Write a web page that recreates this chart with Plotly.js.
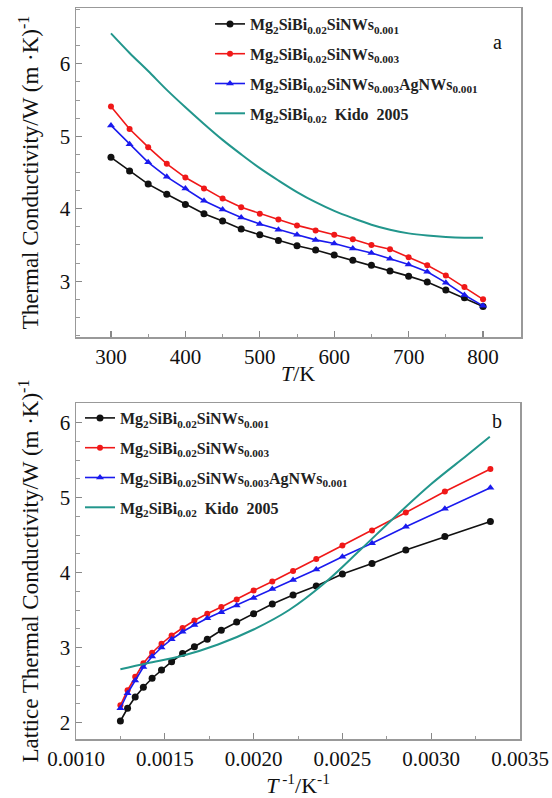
<!DOCTYPE html>
<html>
<head>
<meta charset="utf-8">
<script src="https://cdn.plot.ly/plotly-3.0.1.min.js"></script>
<style>
html,body{margin:0;padding:0;background:#fff;}
#chart{width:552px;height:798px;}
</style>
</head>
<body>
<div id="chart"></div>
<script>
// ---- Data ----
var temperatureK = [300,325,350,375,400,425,450,475,500,525,550,575,600,625,650,675,700,725,750,775,800];

// panel a: total thermal conductivity
var kappaSiNWs001 = [4.71,4.52,4.34,4.20,4.06,3.93,3.83,3.72,3.64,3.56,3.49,3.43,3.36,3.29,3.22,3.14,3.07,2.99,2.88,2.77,2.65];
var kappaSiNWs003 = [5.41,5.10,4.85,4.62,4.43,4.28,4.14,4.02,3.93,3.85,3.77,3.70,3.64,3.58,3.50,3.44,3.33,3.22,3.08,2.92,2.75];
var kappaSiNWsAgNWs = [5.15,4.89,4.64,4.44,4.28,4.11,3.99,3.88,3.79,3.71,3.64,3.57,3.52,3.45,3.39,3.31,3.23,3.13,2.98,2.81,2.66];
var kappaKido = [6.42,6.15,5.90,5.64,5.40,5.17,4.95,4.75,4.56,4.39,4.23,4.09,3.97,3.87,3.78,3.71,3.66,3.63,3.61,3.60,3.60];

// panel b: lattice thermal conductivity vs 1/T
var latticeSiNWs001 = [4.68,4.48,4.30,4.12,3.98,3.82,3.70,3.58,3.45,3.34,3.23,3.11,3.01,2.92,2.81,2.70,2.59,2.47,2.34,2.19,2.02];
var latticeSiNWs003 = [5.38,5.08,4.80,4.56,4.36,4.18,4.02,3.88,3.76,3.64,3.54,3.45,3.36,3.26,3.16,3.05,2.93,2.79,2.61,2.43,2.23];
var latticeSiNWsAgNWs = [5.13,4.85,4.61,4.39,4.21,4.04,3.90,3.78,3.66,3.56,3.47,3.39,3.30,3.21,3.11,3.00,2.88,2.74,2.56,2.39,2.19];
var kidoInvT = [0.00125,0.0014,0.0016,0.0018,0.0020,0.0022,0.0024,0.0026,0.0028,0.0030,0.0032,0.00333];
var latticeKido = [2.71,2.79,2.89,3.04,3.24,3.50,3.86,4.30,4.75,5.18,5.56,5.81];

var seriesNames = [
  'Mg<sub>2</sub>SiBi<sub>0.02</sub>SiNWs<sub>0.001</sub>',
  'Mg<sub>2</sub>SiBi<sub>0.02</sub>SiNWs<sub>0.003</sub>',
  'Mg<sub>2</sub>SiBi<sub>0.02</sub>SiNWs<sub>0.003</sub>AgNWs<sub>0.001</sub>',
  'Mg<sub>2</sub>SiBi<sub>0.02</sub>  Kido  2005'
];
var xTicksA = [300,400,500,600,700,800];
var xTicksB = [0.0010,0.0015,0.0020,0.0025,0.0030,0.0035];
var xTickTextB = ['0.0010','0.0015','0.0020','0.0025','0.0030','0.0035'];
var xTitleA = '<i>T</i>/K';
var xTitleB = '<i>T</i><sup> -1</sup>/K<sup>-1</sup>';
var yTitleA = 'Thermal Conductivity/W (m ·K)<sup>-1</sup>';
var yTitleB = 'Lattice Thermal Conductivity/W (m ·K)<sup>-1</sup>';

var invT = temperatureK.map(function(t){return 1/t;});

// ---- Styles ----
var cBlack='#111111', cRed='#f01818', cBlue='#1a1aee', cTeal='#22968c';
var serif='Liberation Serif';

function tr(x,y,name,color,sym,msize,xa,ya,leg,grp){
  var t = {x:x,y:y,name:name,type:'scatter',mode:sym?'lines+markers':'lines',
    line:{color:color,width:sym?1.6:2},
    xaxis:xa,yaxis:ya,legend:leg,legendgroup:grp};
  if(sym){ t.marker={symbol:sym,size:msize,color:color}; }
  else { t.line.shape='spline'; t.line.smoothing=1; }
  return t;
}

var data = [
  tr(temperatureK,kappaSiNWs001,seriesNames[0],cBlack,'circle',7,'x','y','legend','a1'),
  tr(temperatureK,kappaSiNWs003,seriesNames[1],cRed,'circle',6,'x','y','legend','a2'),
  tr(temperatureK,kappaSiNWsAgNWs,seriesNames[2],cBlue,'triangle-up',7,'x','y','legend','a3'),
  tr(temperatureK,kappaKido,seriesNames[3],cTeal,null,0,'x','y','legend','a4'),
  tr(invT,latticeSiNWs001,seriesNames[0],cBlack,'circle',7,'x2','y2','legend2','b1'),
  tr(invT,latticeSiNWs003,seriesNames[1],cRed,'circle',6,'x2','y2','legend2','b2'),
  tr(invT,latticeSiNWsAgNWs,seriesNames[2],cBlue,'triangle-up',7,'x2','y2','legend2','b3'),
  tr(kidoInvT,latticeKido,seriesNames[3],cTeal,null,0,'x2','y2','legend2','b4')
];

var W=552,H=798;
function axisBase(){
  return {showline:true,mirror:true,linecolor:'#999',linewidth:1.5,
    ticks:'inside',ticklen:6,tickwidth:1.2,tickcolor:'#888',
    showgrid:false,zeroline:false,
    tickfont:{family:serif,size:21,color:'#111'},
    minor:{ticks:'inside',ticklen:3.5,tickwidth:1,tickcolor:'#999',showgrid:false}};
}
var xa=axisBase(); Object.assign(xa,{domain:[76/W,521/W],anchor:'y',range:[253,851],tickmode:'array',tickvals:xTicksA});
xa.minor.dtick=50; xa.minor.tick0=250;
var ya=axisBase(); Object.assign(ya,{domain:[1-337/H,1-8/H],anchor:'x',range:[2.23,6.77],dtick:1,tick0:0,
  title:{text:yTitleA,font:{family:serif,size:23,color:'#111'},standoff:14}});
ya.minor.dtick=0.25; ya.minor.tick0=0;
var xb=axisBase(); Object.assign(xb,{domain:[76/W,520/W],anchor:'y2',range:[0.001,0.0035],tickmode:'array',tickvals:xTicksB,ticktext:xTickTextB,
  title:{text:xTitleB,font:{family:serif,size:22,color:'#111'},standoff:13}});
xb.minor.dtick=0.00025; xb.minor.tick0=0.001;
var yb=axisBase(); Object.assign(yb,{domain:[1-739/H,1-403/H],anchor:'x2',range:[1.78,6.26],dtick:1,tick0:0,
  title:{text:yTitleB,font:{family:serif,size:23,color:'#111'},standoff:14}});
yb.minor.dtick=0.25; yb.minor.tick0=0;

var legFont={family:serif,size:16,color:'#222',weight:'bold'};
var layout = {
  width:W,height:H,margin:{l:0,r:0,t:0,b:0},
  font:{family:serif},
  paper_bgcolor:'#fff',plot_bgcolor:'#fff',showlegend:true,
  xaxis:xa,yaxis:ya,xaxis2:xb,yaxis2:yb,
  legend:{x:210/W,xanchor:'left',y:1-7/H,yanchor:'top',bgcolor:'rgba(0,0,0,0)',
    font:legFont,tracegroupgap:6,itemwidth:30,traceorder:'grouped'},
  legend2:{x:80/W,xanchor:'left',y:1-401/H,yanchor:'top',bgcolor:'rgba(0,0,0,0)',
    font:legFont,tracegroupgap:6,itemwidth:30,traceorder:'grouped'},
  annotations:[
    {text:xTitleA,xref:'paper',yref:'paper',x:298/W,y:1-373/H,yanchor:'middle',showarrow:false,font:{family:serif,size:22,color:'#111'}},
    {text:'a',xref:'paper',yref:'paper',x:504/W,y:1-29/H,showarrow:false,font:{family:serif,size:20,color:'#111'}},
    {text:'b',xref:'paper',yref:'paper',x:504/W,y:1-421/H,showarrow:false,font:{family:serif,size:20,color:'#111'}}
  ]
};
Plotly.newPlot('chart',data,layout,{staticPlot:true,displayModeBar:false});
</script>
</body>
</html>
